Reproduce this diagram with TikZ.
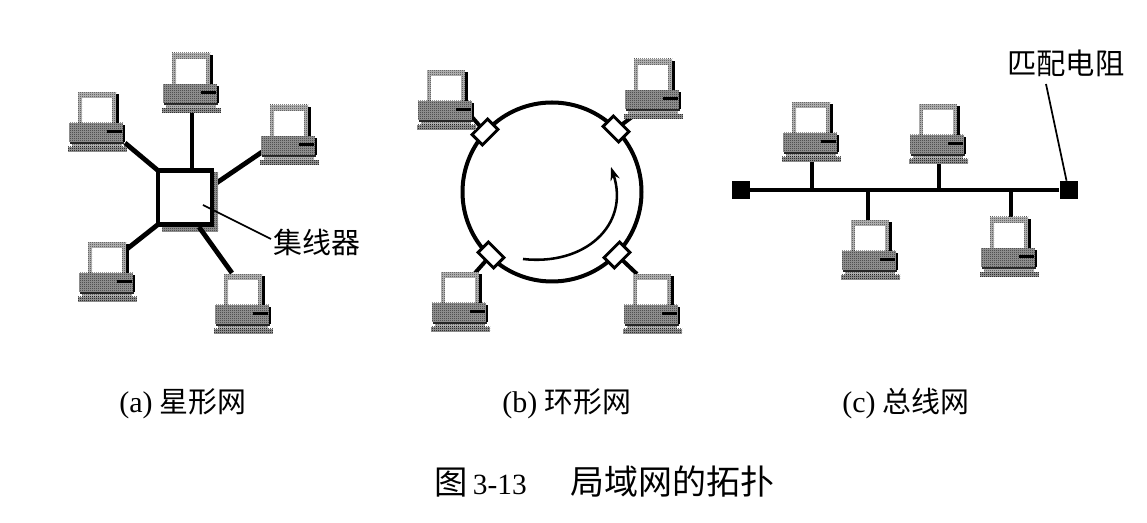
\documentclass[tikz,border=0pt]{standalone}
\usepackage{fontspec}
\setmainfont{Liberation Serif}
\newfontfamily\cjk{Noto Sans CJK SC}
\usetikzlibrary{arrows.meta,patterns}
\definecolor{pcgray}{gray}{0.68}
\definecolor{pcdark}{gray}{0.55}
\pgfdeclarepatternformonly{stip}{\pgfqpoint{0pt}{0pt}}{\pgfqpoint{1.5pt}{1.5pt}}{\pgfqpoint{1.5pt}{1.5pt}}{%
  \pgfpathrectangle{\pgfqpoint{0pt}{0pt}}{\pgfqpoint{.75pt}{.75pt}}\pgfusepath{fill}}
\tikzset{
  x=0.75pt,y=-0.75pt,
  link/.style={line width=3.6pt,black},
  buslink/.style={line width=3.4pt,black},
  stub/.style={line width=3pt,black},
  leader/.style={line width=1.3pt,black},
  ring/.style={line width=3pt,black},
  port/.style={draw=black,fill=white,line width=2.2pt,minimum width=16.5pt,minimum height=11pt,inner sep=0pt},
  term/.style={fill=black,minimum size=13.5pt,inner sep=0pt},
  lab/.style={inner sep=0pt,font=\fontsize{21.7pt}{24pt}\selectfont,anchor=west},
  lightst/.style={fill=pcgray,postaction={pattern=stip,pattern color=black!75}},
  darkst/.style={fill=pcdark,postaction={pattern=stip,pattern color=black}},
  pc/.pic={
    \fill[black] (38,2) rectangle (41,33);
    \fill[white] (1,2) rectangle (37,32);
    \path[lightst] (0,0) rectangle (38,6);
    \path[lightst] (0,0) rectangle (4,32);
    \path[lightst] (34,0) rectangle (38,32);
    \fill[black] (43,33) rectangle (47,50);
    \path[darkst] (-9,31) rectangle (45,50);
    \fill[black] (29,38.5) rectangle (44,41);
    \fill[black!85] (-8,50) rectangle (46,52);
    \path[lightst] (-6,52) rectangle (44,55);
    \path[darkst] (-10,55) rectangle (49,60);
  }
}
\begin{document}
\begin{tikzpicture}
\useasboundingbox (0,0) rectangle (1147,523);
\fill[white] (0,0) rectangle (1147,523);
% star
\coordinate (s1) at (192,113);
\coordinate (s2) at (125,143);
\coordinate (s3) at (262,152);
\coordinate (s4) at (127,249);
\coordinate (s5) at (232,273);
\coordinate (e3) at (215,184);
\coordinate (e5) at (199,227);
\node[minimum width=40pt,minimum height=40pt,inner sep=0pt] (hub) at (185,197.5) {};
\draw[link] (s1) -- (hub.north -| s1);
\draw[link] (s2) -- (hub.north west);
\draw[link] (s3) -- (e3);
\draw[link] (s4) -- (hub.south west);
\path[darkst] (162,224) rectangle (218,232);
\path[darkst] (210,172) rectangle (218,232);
\draw[link] (s5) -- (e5);
\draw[line width=3.6pt,fill=white] (hub.south west) rectangle (hub.north east);
\pic at (172,53) {pc};
\pic at (78,92) {pc};
\pic at (270,105) {pc};
\pic at (88,242) {pc};
\pic at (224,274) {pc};
\node[lab] (hl) at (273,242) {\cjk 集线器};
\coordinate (hp) at (203,205);
\draw[leader] (hl.west) ++(-2,-3) -- (hp);
% ring
\coordinate (rc) at (552,192);
\draw[ring] (rc) circle (89.5);
\coordinate (p1) at (485,132);
\coordinate (p2) at (616,129);
\coordinate (p3) at (491,255);
\coordinate (p4) at (617,255);
\coordinate (r1) at (472,117);
\coordinate (r2) at (632,117);
\coordinate (r3) at (475,273);
\coordinate (r4) at (637,274);
\draw[stub] (p1) -- (r1);
\draw[stub] (p2) -- (r2);
\draw[stub] (p3) -- (r3);
\draw[stub] (p4) -- (r4);
\node[port,rotate=45] (q1) at (p1) {};
\node[port,rotate=-45] (q2) at (p2) {};
\node[port,rotate=-45] (q3) at (p3) {};
\node[port,rotate=45] (q4) at (p4) {};
\coordinate (as) at (523,259);
\coordinate (ae) at (611,167);
\draw[line width=1.9pt,-{Stealth[length=10pt,width=7pt]}] (as) .. controls (585,266) and (630,225) .. (ae);
\pic at (427,70) {pc};
\pic at (634,59) {pc};
\pic at (441,272) {pc};
\pic at (633,274) {pc};
% bus
\node[term] (tl) at (740.5,190) {};
\node[term] (tr) at (1068.5,190) {};
\draw[buslink] (tl) -- (tr);
\coordinate (b1) at (812,190);
\coordinate (b2) at (939,190);
\coordinate (b3) at (868,190);
\coordinate (b4) at (1011,190);
\draw[stub] (b1) -- ++(0,-30);
\draw[stub] (b2) -- ++(0,-30);
\draw[stub] (b3) -- ++(0,35);
\draw[stub] (b4) -- ++(0,35);
\pic at (792,102) {pc};
\pic at (919,104) {pc};
\pic at (851,220) {pc};
\pic at (990,217) {pc};
\node[lab,font=\fontsize{22pt}{24pt}\selectfont] (rl) at (1007,63) {\cjk 匹配电阻};
\coordinate (rp) at (1046,84);
\draw[leader] (rp) -- (tr);
% captions
\newcommand{\latfs}{\fontsize{22.5pt}{24pt}\selectfont}
\node[lab] (ca) at (119,404) {{\latfs (a)} {\cjk 星形网}};
\node[lab] (cb) at (502,404) {{\latfs (b)} {\cjk 环形网}};
\node[lab] (cc) at (842,404) {{\latfs (c)} {\cjk 总线网}};
\node[lab,font=\fontsize{25pt}{28pt}\selectfont] (cap) at (434,482) {{\cjk 图}\hspace{4pt}{\fontsize{22pt}{24pt}\selectfont 3-13}\hspace{33pt}{\cjk\fontsize{25.5pt}{28pt}\selectfont 局域网的拓扑}};
\end{tikzpicture}
\end{document}
